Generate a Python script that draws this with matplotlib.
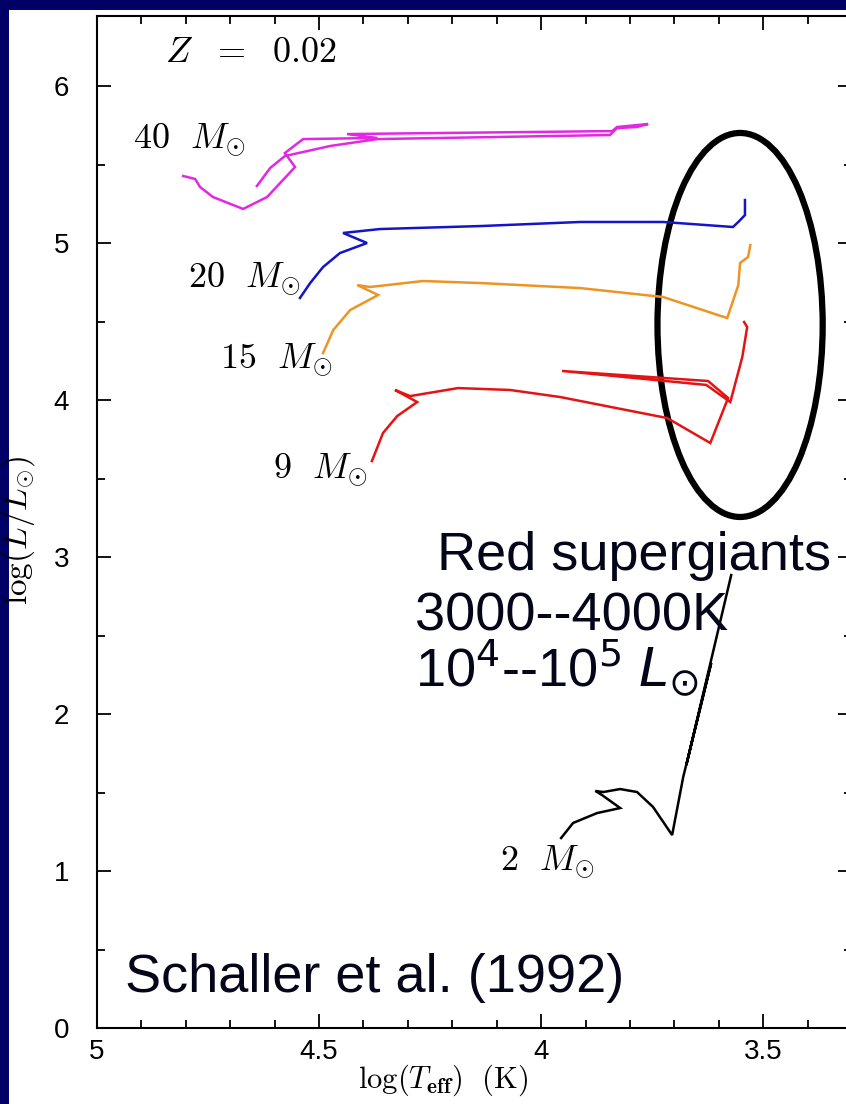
import numpy as np
import matplotlib
matplotlib.use("Agg")
import matplotlib.pyplot as plt
from matplotlib.patches import Ellipse, Rectangle
from matplotlib.ticker import MultipleLocator

plt.rcParams['font.family'] = ['Liberation Sans', 'DejaVu Sans']
plt.rcParams['mathtext.fontset'] = 'custom'
plt.rcParams['mathtext.rm'] = 'Liberation Sans'
plt.rcParams['mathtext.it'] = 'Liberation Sans:italic'

# evolutionary tracks, Schaller et al. (1992), Z = 0.02 : (log Teff, log L/Lsun)
logT_40 = [4.806, 4.779, 4.768, 4.739, 4.671, 4.617, 4.554, 4.577, 4.536, 4.369, 4.437,
           3.840, 3.829, 3.759, 3.784, 3.829, 3.845, 4.369, 4.475, 4.577, 4.610, 4.640]
logL_40 = [5.427, 5.408, 5.357, 5.293, 5.217, 5.293, 5.484, 5.573, 5.662, 5.669, 5.694,
           5.713, 5.739, 5.758, 5.739, 5.732, 5.688, 5.662, 5.618, 5.554, 5.478, 5.363]

logT_20 = [4.543, 4.520, 4.491, 4.453, 4.392, 4.446, 4.363, 4.137, 3.912, 3.725,
           3.568, 3.556, 3.541, 3.541]
logL_20 = [4.650, 4.745, 4.847, 4.936, 5.000, 5.064, 5.089, 5.108, 5.134, 5.134,
           5.102, 5.134, 5.178, 5.274]

logT_15 = [4.491, 4.468, 4.430, 4.367, 4.414, 4.385, 4.266, 4.137, 3.912, 3.725,
           3.581, 3.556, 3.552, 3.534, 3.529]
logL_15 = [4.299, 4.446, 4.573, 4.669, 4.732, 4.720, 4.758, 4.745, 4.713, 4.656,
           4.522, 4.732, 4.873, 4.911, 4.987]

logT_9 = [4.381, 4.356, 4.324, 4.279, 4.329, 4.295, 4.187, 4.070, 3.957, 3.716,
          3.619, 3.579, 3.624, 3.953, 3.628, 3.574, 3.547, 3.536, 3.543]
logL_9 = [3.611, 3.790, 3.898, 3.987, 4.064, 4.025, 4.076, 4.064, 4.019, 3.885,
          3.726, 4.013, 4.121, 4.185, 4.096, 3.987, 4.274, 4.465, 4.497]

logT_2 = [3.955, 3.928, 3.874, 3.822, 3.863, 3.878, 3.860, 3.822, 3.784, 3.748,
          3.705, 3.680, 3.617, 3.673, 3.572]
logL_2 = [1.210, 1.306, 1.369, 1.401, 1.484, 1.510, 1.503, 1.522, 1.503, 1.408,
          1.229, 1.599, 2.325, 1.675, 2.885]

tracks = [
    (logT_40, logL_40, '#e228e2', r'$40\ \ M_{\odot}$', 4.919, 5.605),
    (logT_20, logL_20, '#1414c8', r'$20\ \ M_{\odot}$', 4.795, 4.720),
    (logT_15, logL_15, '#ee9425', r'$15\ \ M_{\odot}$', 4.723, 4.204),
    (logT_9, logL_9, '#e41414', r'$9\ \ M_{\odot}$', 4.604, 3.503),
    (logT_2, logL_2, 'black', r'$2\ \ M_{\odot}$', 4.092, 1.006),
]

fig = plt.figure(figsize=(8.46, 11.04), dpi=100)
fig.patch.set_facecolor('#000066')
fig.add_artist(Rectangle((9 / 846, 0), 1, 1 - 10 / 1104, transform=fig.transFigure,
                         facecolor='white', edgecolor='none', zorder=0))

ax = fig.add_axes([97 / 846, 76 / 1104, 755 / 846, 1012 / 1104])
ax.set_facecolor('white')
ax.set_xlim(5, 3.3)
ax.set_ylim(0, 6.446)

for lt, ll, c, lab, tx, ty in tracks:
    ax.plot(lt, ll, color=c, lw=1.8, solid_joinstyle='miter')
    ax.text(tx, ty, lab, fontsize=26, math_fontfamily='cm', va='baseline', ha='left')

ax.text(4.847, 6.153, r'$Z\ \ =\ \ 0.02$', fontsize=26, math_fontfamily='cm', va='baseline')

# red supergiant region
ax.add_patch(Ellipse((3.552, 4.478), 0.372, 2.446, fill=False, lw=4.5, edgecolor='black'))
ax.text(4.234, 2.917, 'Red supergiants', fontsize=39, color='#05051a', va='baseline')
ax.text(4.284, 2.535, '3000--4000K', fontsize=39, color='#05051a', va='baseline')
ax.text(4.284, 2.166, r'10$^4$--10$^5$ $L_{\odot}$', fontsize=39, color='#05051a',
        va='baseline', math_fontfamily='dejavusans')
ax.text(4.937, 0.229, 'Schaller et al. (1992)', fontsize=39, color='#05051a', va='baseline')

ax.xaxis.set_major_locator(MultipleLocator(0.5))
ax.xaxis.set_minor_locator(MultipleLocator(0.1))
ax.yaxis.set_major_locator(MultipleLocator(1))
ax.yaxis.set_minor_locator(MultipleLocator(0.5))
ax.xaxis.set_major_formatter(matplotlib.ticker.FuncFormatter(lambda v, p: '%g' % v))
ax.tick_params(which='both', direction='in', top=True, right=True, width=1.3, labelsize=20)
ax.tick_params(which='major', length=10)
ax.tick_params(which='minor', length=5.5)
ax.tick_params(axis='y', pad=20)
ax.tick_params(axis='x', pad=8)
for sp in ax.spines.values():
    sp.set_linewidth(1.5)

ax.set_xlabel(r'$\log(T_{\mathbf{eff}})\ \ (\mathrm{K})$', fontsize=22, math_fontfamily='cm')
ax.xaxis.set_label_coords(0.458, -0.034)
ax.set_ylabel(r'$\log(L/L_{\odot})$', fontsize=24, math_fontfamily='cm')
ax.yaxis.set_label_coords(-0.08, 0.492)

fig.savefig('out.png', dpi=100, facecolor=fig.get_facecolor())
